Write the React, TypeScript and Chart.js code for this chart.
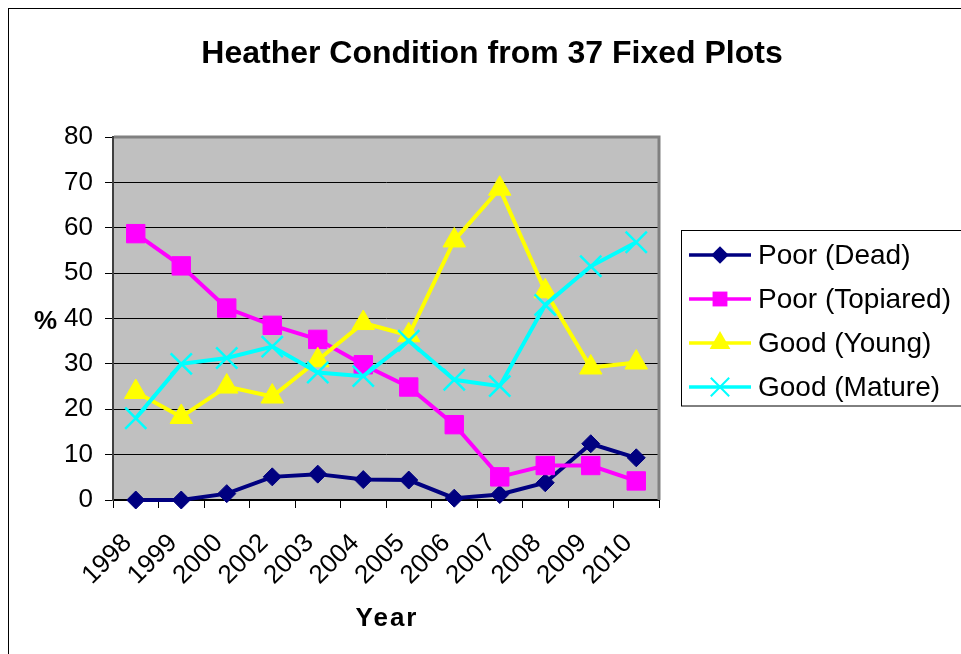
import React, { useEffect, useRef } from 'react';
import { Chart, registerables } from 'chart.js';

Chart.register(...registerables);

const years = ['1998', '1999', '2000', '2002', '2003', '2004', '2005', '2006', '2007', '2008', '2009', '2010'];
const poorDead = [0, 0, 1.4, 5.1, 5.7, 4.5, 4.4, 0.4, 1.2, 3.8, 12.4, 9.3];
const poorTopiared = [58.7, 51.6, 42.3, 38.5, 35.4, 29.8, 24.9, 16.6, 5.1, 7.6, 7.6, 4.2];
const goodYoung = [23.8, 18.3, 25.0, 22.8, 30.8, 39.0, 36.3, 57.2, 68.6, 46.0, 29.2, 30.3];
const goodMature = [18.0, 30.0, 31.3, 33.8, 28.1, 27.3, 35.1, 26.5, 25.1, 43.0, 51.5, 56.8];
const seriesNames = ['Poor (Dead)', 'Poor (Topiared)', 'Good (Young)', 'Good (Mature)'];
const seriesColors = ['#000080', '#FF00FF', '#FFFF00', '#00FFFF'];
const seriesMarkers = ['rectRot', 'rect', 'triangle', 'crossRot'];
const titleText = 'Heather Condition from 37 Fixed Plots';
const xTitle = 'Year';
const yTitle = '%';

const FONT = '"Liberation Sans", Arial, sans-serif';

function drawMarker(ctx: CanvasRenderingContext2D, style: string, x: number, y: number, r: number, color: string) {
  ctx.save();
  ctx.fillStyle = color;
  ctx.strokeStyle = color;
  ctx.beginPath();
  if (style === 'rectRot') {
    ctx.moveTo(x - r, y);
    ctx.lineTo(x, y - r);
    ctx.lineTo(x + r, y);
    ctx.lineTo(x, y + r);
    ctx.closePath();
    ctx.fill();
  } else if (style === 'rect') {
    const s = r * Math.SQRT1_2;
    ctx.rect(x - s, y - s, 2 * s, 2 * s);
    ctx.fill();
  } else if (style === 'triangle') {
    ctx.moveTo(x, y - r);
    ctx.lineTo(x + r * 0.866, y + r * 0.5);
    ctx.lineTo(x - r * 0.866, y + r * 0.5);
    ctx.closePath();
    ctx.fill();
  } else {
    const o = r * Math.SQRT1_2;
    ctx.lineWidth = 2;
    ctx.moveTo(x - o, y - o);
    ctx.lineTo(x + o, y + o);
    ctx.moveTo(x + o, y - o);
    ctx.lineTo(x - o, y + o);
    ctx.stroke();
  }
  ctx.restore();
}

const decorPlugin = {
  id: 'decor',
  beforeDraw(chart: any) {
    const { ctx, chartArea } = chart;
    const { left, top, right, bottom } = chartArea;
    ctx.save();
    ctx.fillStyle = '#ffffff';
    ctx.fillRect(0, 0, chart.width, chart.height);
    ctx.fillStyle = '#C0C0C0';
    ctx.fillRect(left, top, right - left, bottom - top);
    ctx.strokeStyle = '#000';
    ctx.lineWidth = 1;
    ctx.strokeRect(8.5, 8.5, 1400, 1400);
    ctx.restore();
  },
  beforeDatasetsDraw(chart: any) {
    const { ctx, chartArea } = chart;
    const { left, top, right, bottom } = chartArea;
    ctx.save();
    ctx.strokeStyle = '#808080';
    ctx.lineWidth = 3;
    ctx.beginPath();
    ctx.moveTo(left + 1, top);
    ctx.lineTo(right, top);
    ctx.lineTo(right, bottom);
    ctx.stroke();
    ctx.restore();
  },
  afterDraw(chart: any) {
    const { ctx, chartArea } = chart;
    ctx.save();
    // title
    ctx.fillStyle = '#000';
    ctx.font = `bold 32px ${FONT}`;
    ctx.textAlign = 'center';
    ctx.textBaseline = 'alphabetic';
    ctx.fillText(titleText, 492, 63);
    // y title
    ctx.font = `bold 26px ${FONT}`;
    ctx.textAlign = 'left';
    ctx.fillText(yTitle, 34, 329);
    // x title
    ctx.textAlign = 'center';
    try { (ctx as any).letterSpacing = '2px'; } catch (e) {}
    ctx.fillText(xTitle, (chartArea.left + chartArea.right) / 2 + 1, 626);
    try { (ctx as any).letterSpacing = '0px'; } catch (e) {}
    // legend
    ctx.strokeStyle = '#000';
    ctx.lineWidth = 1;
    ctx.strokeRect(681.5, 230.5, 400, 175.5);
    const rows = [255, 299, 343, 387];
    const legR = [8.7, 10.5, 12, 13];
    ctx.font = `28px ${FONT}`;
    ctx.textAlign = 'left';
    ctx.textBaseline = 'middle';
    seriesNames.forEach((name, i) => {
      const y = rows[i];
      ctx.strokeStyle = seriesColors[i];
      ctx.lineWidth = 3.5;
      ctx.beginPath();
      ctx.moveTo(689, y);
      ctx.lineTo(751, y);
      ctx.stroke();
      drawMarker(ctx, seriesMarkers[i], 720, y, legR[i], seriesColors[i]);
      ctx.fillStyle = '#000';
      ctx.fillText(name, 758, y + 1);
    });
    ctx.restore();
  },
};

export default function App() {
  const ref = useRef<HTMLCanvasElement | null>(null);
  useEffect(() => {
    if (!ref.current) return;
    const values = [poorDead, poorTopiared, goodYoung, goodMature];
    const radii = [9, 13, 13, 15];
    const chart = new Chart(ref.current, {
      type: 'line',
      data: {
        labels: years,
        datasets: values.map((v, i) => ({
          label: seriesNames[i],
          data: v,
          borderColor: seriesColors[i],
          backgroundColor: seriesColors[i],
          borderWidth: 4,
          pointStyle: seriesMarkers[i] as any,
          pointRadius: radii[i],
          pointBorderWidth: i === 3 ? 2.5 : 1,
          pointBackgroundColor: seriesColors[i],
          pointBorderColor: seriesColors[i],
          tension: 0,
          fill: false,
          clip: false as any,
          order: 4 - i,
        })),
      },
      options: {
        animation: false,
        responsive: false,
        devicePixelRatio: 1,
        layout: { padding: { left: 53, right: 302, top: 137, bottom: 0 } },
        plugins: {
          legend: { display: false },
          title: { display: false },
          tooltip: { enabled: false },
        },
        scales: {
          x: {
            offset: true,
            grid: { offset: true, drawOnChartArea: false, tickLength: 8, color: '#000', lineWidth: 1 },
            border: { color: '#000', width: 2 },
            ticks: {
              autoSkip: false,
              minRotation: 45,
              maxRotation: 45,
              color: '#000',
              padding: 20,
              labelOffset: -8,
              font: { family: FONT, size: 26 },
            },
            afterFit: (s: any) => { s.height = 154; },
          },
          y: {
            min: 0,
            max: 80,
            ticks: { stepSize: 10, color: '#000', padding: 12, font: { family: FONT, size: 26 } },
            grid: { color: '#000', lineWidth: 1, tickLength: 8 },
            border: { color: '#404040', width: 2 },
            afterFit: (s: any) => { s.width = 60; },
          },
        },
      },
      plugins: [decorPlugin],
    });
    return () => chart.destroy();
  }, []);
  return (
    <div style={{ position: 'absolute', left: 0, top: 0, width: 961, height: 654 }}>
      <canvas ref={ref} width={961} height={654} style={{ display: 'block' }} />
    </div>
  );
}
